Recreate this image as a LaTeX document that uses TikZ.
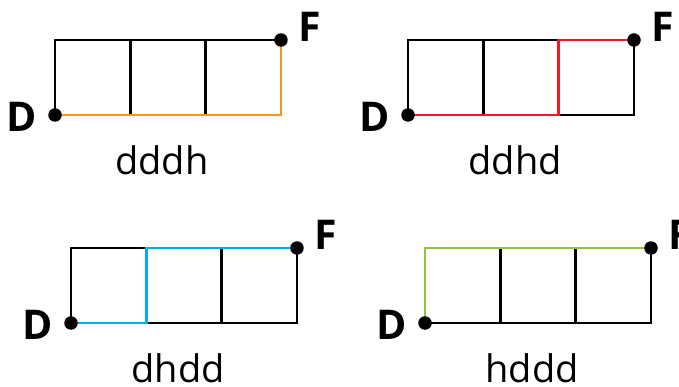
\documentclass[tikz,border=0pt]{standalone}
\usepackage{fontspec}
\setmainfont{Open Sans}
\usetikzlibrary{positioning}

\definecolor{routeorange}{RGB}{247,148,30}
\definecolor{routered}{RGB}{237,28,36}
\definecolor{routeblue}{RGB}{0,174,239}
\definecolor{routegreen}{RGB}{141,198,63}

\begin{document}
\begin{tikzpicture}[
  x=1pt, y=-1pt,
  gridline/.style={line width=2.6pt, black},
  route/.style={line width=2.6pt},
  dot/.style={circle, fill=black, inner sep=0pt, minimum size=13.5pt},
  endlabel/.style={inner sep=0pt, font=\fontsize{41}{41}\selectfont\bfseries},
  caption/.style={inner sep=0pt, anchor=base, font=\fontsize{38}{38}\selectfont}
]
\useasboundingbox (0,0) rectangle (679,387);

% dddh
\begin{scope}[shift={(55,115)}]
  \foreach \i in {0,...,3} {
    \coordinate (b\i) at (75.33*\i,0);
    \coordinate (t\i) at (75.33*\i,-75);
  }
  \draw[gridline] (b0) -- (b3) -- (t3) -- (t0) -- cycle;
  \foreach \i in {1,2} \draw[gridline] (b\i) -- (t\i);
  \draw[route, routeorange] (b0) -- (b3) -- (t3);
  \node[dot] (D1) at (b0) {};
  \node[dot] (F1) at (t3) {};
  \node[endlabel, left=11pt of D1, yshift=-2pt] {D};
  \node[endlabel, right=10pt of F1, yshift=13pt] {F};
  \node[caption] at (107,60) {dddh};
\end{scope}

% ddhd
\begin{scope}[shift={(408,115)}]
  \foreach \i in {0,...,3} {
    \coordinate (b\i) at (75.33*\i,0);
    \coordinate (t\i) at (75.33*\i,-75);
  }
  \draw[gridline] (b0) -- (b3) -- (t3) -- (t0) -- cycle;
  \foreach \i in {1,2} \draw[gridline] (b\i) -- (t\i);
  \draw[route, routered] (b0) -- (b2) -- (t2) -- (t3);
  \node[dot] (D2) at (b0) {};
  \node[dot] (F2) at (t3) {};
  \node[endlabel, left=11pt of D2, yshift=-2pt] {D};
  \node[endlabel, right=10pt of F2, yshift=13pt] {F};
  \node[caption] at (107,60) {ddhd};
\end{scope}

% dhdd
\begin{scope}[shift={(71,323)}]
  \foreach \i in {0,...,3} {
    \coordinate (b\i) at (75.33*\i,0);
    \coordinate (t\i) at (75.33*\i,-75);
  }
  \draw[gridline] (b0) -- (b3) -- (t3) -- (t0) -- cycle;
  \foreach \i in {1,2} \draw[gridline] (b\i) -- (t\i);
  \draw[route, routeblue] (b0) -- (b1) -- (t1) -- (t3);
  \node[dot] (D3) at (b0) {};
  \node[dot] (F3) at (t3) {};
  \node[endlabel, left=11pt of D3, yshift=-2pt] {D};
  \node[endlabel, right=10pt of F3, yshift=13pt] {F};
  \node[caption] at (107,59) {dhdd};
\end{scope}

% hddd
\begin{scope}[shift={(425,323)}]
  \foreach \i in {0,...,3} {
    \coordinate (b\i) at (75.33*\i,0);
    \coordinate (t\i) at (75.33*\i,-75);
  }
  \draw[gridline] (b0) -- (b3) -- (t3) -- (t0) -- cycle;
  \foreach \i in {1,2} \draw[gridline] (b\i) -- (t\i);
  \draw[route, routegreen] (b0) -- (t0) -- (t3);
  \node[dot] (D4) at (b0) {};
  \node[dot] (F4) at (t3) {};
  \node[endlabel, left=11pt of D4, yshift=-2pt] {D};
  \node[endlabel, right=10pt of F4, yshift=13pt] {F};
  \node[caption] at (107,59) {hddd};
\end{scope}
\end{tikzpicture}
\end{document}
